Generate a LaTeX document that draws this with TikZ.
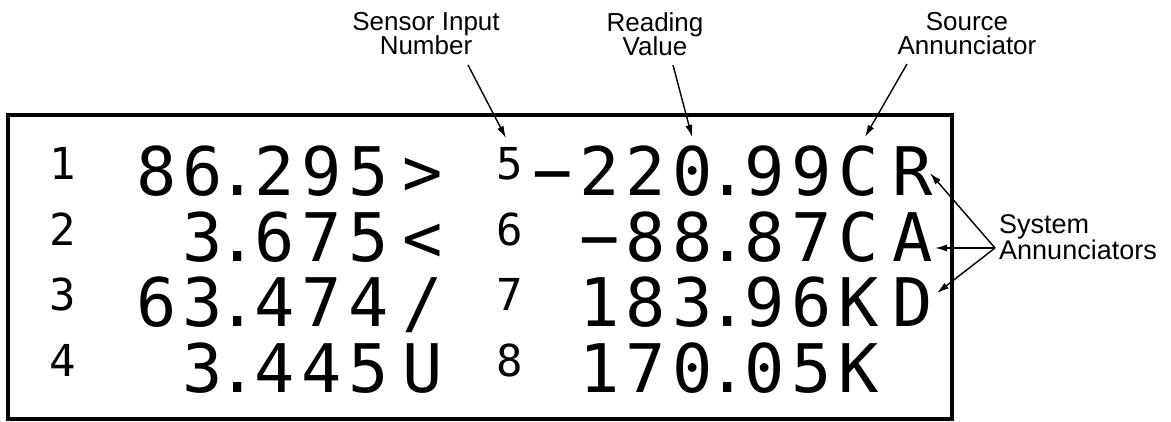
\documentclass[tikz,border=0pt]{standalone}
\usepackage{fontspec}
\setmainfont{Liberation Sans}
\newfontfamily\lcdfont{DejaVu Sans Mono}
\usetikzlibrary{arrows.meta,calc}
\newcommand\lcdc[1]{\makebox[46.7pt][l]{\makebox[35pt][c]{#1}}}
\newcommand\lcdp{\makebox[25.5pt][l]{\makebox[12pt][c]{.}}}
\newcommand\lcdg{\hspace{8pt}}
\tikzset{
  lbl/.style={font=\fontsize{26}{24.5}\selectfont, align=center, inner sep=0pt, anchor=north},
  syslbl/.style={font=\fontsize{27}{25}\selectfont, align=left, inner sep=0pt, anchor=north west},
  big/.style={font=\lcdfont\fontsize{67}{67}\selectfont, inner sep=0pt, anchor=base west},
  small/.style={font=\lcdfont\fontsize{44}{44}\selectfont, inner sep=0pt, anchor=base},
  arr/.style={line width=1.4pt, -{Latex[length=12pt,width=7pt]}},
  lcdframe/.style={line width=4pt}
}
\begin{document}
\begin{tikzpicture}[x=1pt,y=-1pt]
\useasboundingbox (0,0) rectangle (1171,422);
% display frame
\draw[lcdframe] (8,115) rectangle (952,419);
% labels
\node[lbl] (sensorlbl) at (426,12) {Sensor Input\\Number};
\node[lbl] (readlbl) at (655,12) {Reading\\Value};
\node[lbl] (srclbl) at (967,12) {Source\\Annunciator};
\node[syslbl] (sys) at (999,214) {System\\Annunciators};
% sensor numbers
\node[small] (n1) at (63,179.8) {1};
\node[small] (n2) at (63,245.3) {2};
\node[small] (n3) at (63,310.8) {3};
\node[small] (n4) at (63,376.3) {4};
\node[small] (n5) at (510,179.8) {5};
\node[small] (n6) at (510,245.3) {6};
\node[small] (n7) at (510,310.8) {7};
\node[small] (n8) at (510,376.3) {8};
% readings, left column
\node[big] (v1) at (138.5,195.8) {\lcdc{8}\lcdc{6}\lcdp\lcdc{2}\lcdc{9}\lcdc{5}\lcdg\lcdc{>}};
\node[big] (v2) at (185.2,261.3) {\lcdc{3}\lcdp\lcdc{6}\lcdc{7}\lcdc{5}\lcdg\lcdc{<}};
\node[big] (v3) at (138.5,326.8) {\lcdc{6}\lcdc{3}\lcdp\lcdc{4}\lcdc{7}\lcdc{4}\lcdg\lcdc{/}};
\node[big] (v4) at (185.2,392.3) {\lcdc{3}\lcdp\lcdc{4}\lcdc{4}\lcdc{5}\lcdg\lcdc{U}};
% readings, right column
\node[big] (v5) at (535,195.8) {\lcdc{−}\lcdc{2}\lcdc{2}\lcdc{0}\lcdp\lcdc{9}\lcdc{9}\lcdc{C}\lcdg\lcdc{R}};
\node[big] (v6) at (581.7,261.3) {\lcdc{−}\lcdc{8}\lcdc{8}\lcdp\lcdc{8}\lcdc{7}\lcdc{C}\lcdg\lcdc{A}};
\node[big] (v7) at (581.7,326.8) {\lcdc{1}\lcdc{8}\lcdc{3}\lcdp\lcdc{9}\lcdc{6}\lcdc{K}\lcdg\lcdc{D}};
\node[big] (v8) at (581.7,392.3) {\lcdc{1}\lcdc{7}\lcdc{0}\lcdp\lcdc{0}\lcdc{5}\lcdc{K}};
% arrow end points
\coordinate (sensorstart) at (468,65);
\coordinate (sensortip) at (506,138);
\coordinate (readstart) at (673,65);
\coordinate (readtip) at (692,137);
\coordinate (srcstart) at (907,64);
\coordinate (srctip) at (865,137);
\coordinate (hub) at (995,248);
\coordinate (tipR) at (930,173);
\coordinate (tipA) at (935,248);
\coordinate (tipD) at (937,293);
\draw[arr] (sensorstart) -- (sensortip);
\draw[arr] (readstart) -- (readtip);
\draw[arr] (srcstart) -- (srctip);
\draw[arr] (hub) -- (tipR);
\draw[arr] (hub) -- (tipA);
\draw[arr] (hub) -- (tipD);
\end{tikzpicture}
\end{document}
